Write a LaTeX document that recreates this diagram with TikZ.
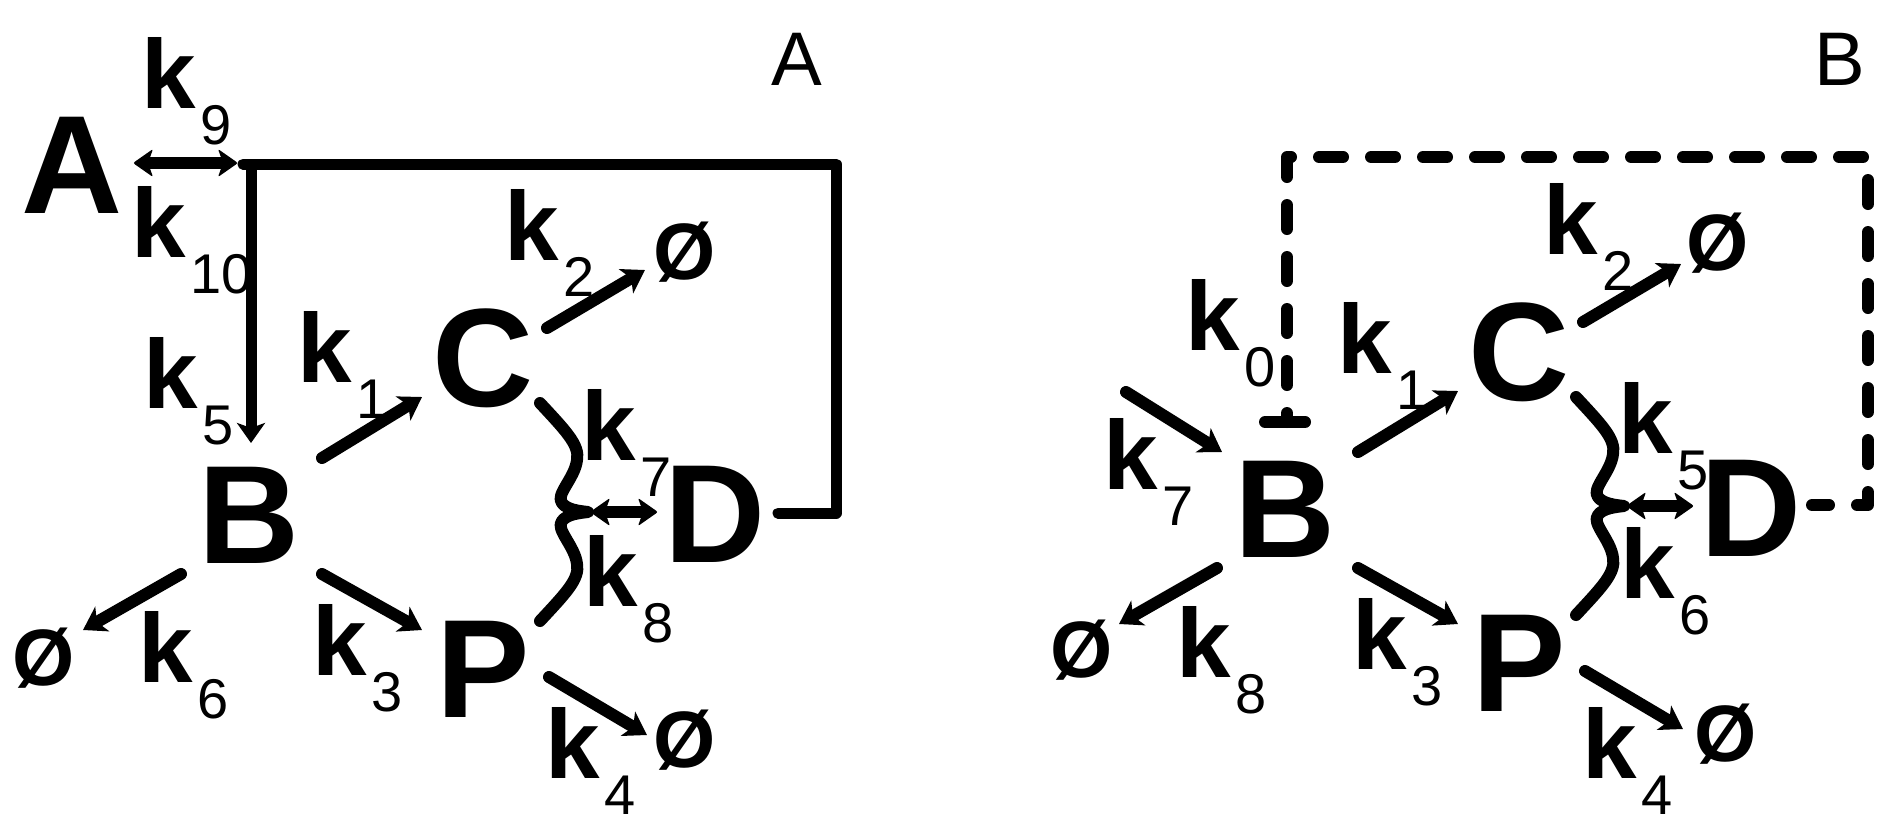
\documentclass[tikz,border=0pt]{standalone}
\usepackage{fontspec}
\setmainfont{Liberation Sans}
\usetikzlibrary{arrows.meta}
\newcommand{\kk}[1]{{\fontsize{98}{98}\selectfont\bfseries k}\kern5pt\raisebox{-36pt}{\fontsize{56}{56}\selectfont #1}}
\tikzset{
  big/.style={font=\fontsize{140}{140}\selectfont\bfseries, inner sep=0pt, anchor=base},
  kl/.style={inner sep=0pt, anchor=base west},
  nul/.style={font=\fontsize{80}{80}\selectfont\bfseries, inner sep=0pt, anchor=base},
  plab/.style={font=\fontsize{76}{76}\selectfont, inner sep=0pt, anchor=base},
  ln/.style={line width=12pt, line cap=round, line join=round},
  arr/.style={ln, -{Stealth[length=22pt,width=28pt,inset=6pt]}},
  varr/.style={line width=11pt, line cap=round, -{Stealth[length=20pt,width=28pt,inset=5pt]}},
  dl/.style={line width=12pt, line cap=round, line join=round, dash pattern=on 24pt off 28pt, dash phase=15pt},
  pics/dbl/.style={code={
    \fill (-#1+14,-6) rectangle (#1-14,6);
    \fill[rounded corners=2pt] (#1,0) -- (#1-20,-14) -- (#1-15,0) -- (#1-20,14) -- cycle;
    \fill[rounded corners=2pt] (-#1,0) -- (-#1+20,-14) -- (-#1+15,0) -- (-#1+20,14) -- cycle;
  }},
  brace/.pic={
    \draw[ln] (-48,-109) .. controls (-23,-82) and (-8,-67) .. (-11,-52)
      .. controls (-13,-34) and (-33,-17) .. (-26,-9)
      .. controls (-21,-2) and (-8,-1) .. (0,0)
      .. controls (-8,1) and (-21,2) .. (-26,9)
      .. controls (-33,17) and (-13,34) .. (-11,52)
      .. controls (-8,67) and (-23,82) .. (-48,109);
  }
}
\begin{document}
\begin{tikzpicture}[x=1pt,y=-1pt]
\useasboundingbox (0,0) rectangle (1894,828);
% ---------------- Panel A ----------------
\node[big] (A) at (72,213) {A};
\node[big] (B1) at (249,563) {B};
\node[big] (C1) at (483,406) {C};
\node[big] (D1) at (715,562) {D};
\node[big] (P1) at (483,717) {P};
\node[nul] (N1a) at (685,279) {Ø};
\node[nul] (N1b) at (44,685) {Ø};
\node[nul] (N1c) at (685,767) {Ø};
\node[plab] (LA) at (797,85) {A};
\node[kl] (k9a) at (141,108) {\kk{9}};
\node[kl] (k10a) at (131,257) {\kk{10}};
\node[kl] (k5a) at (143,408) {\kk{5}};
\node[kl] (k1a) at (297,382) {\kk{1}};
\node[kl] (k2a) at (504,260) {\kk{2}};
\node[kl] (k3a) at (312,675) {\kk{3}};
\node[kl] (k4a) at (545,778) {\kk{4}};
\node[kl] (k6a) at (138,682) {\kk{6}};
\node[kl] (k7a) at (581,460) {\kk{7}};
\node[kl] (k8a) at (583,606) {\kk{8}};
\coordinate (bc1s) at (322,458); \coordinate (bc1e) at (422,397);
\coordinate (cn1s) at (547,328); \coordinate (cn1e) at (645,270);
\coordinate (bn1s) at (181,574); \coordinate (bn1e) at (83,630);
\coordinate (bp1s) at (322,574); \coordinate (bp1e) at (422,630);
\coordinate (pn1s) at (549,677); \coordinate (pn1e) at (647,735);
\draw[arr] (bc1s) -- (bc1e);
\draw[arr] (cn1s) -- (cn1e);
\draw[arr] (bn1s) -- (bn1e);
\draw[arr] (bp1s) -- (bp1e);
\draw[arr] (pn1s) -- (pn1e);
\coordinate (ajm) at (185.5,163);
\pic at (ajm) {dbl=52.5};
\coordinate (J) at (243,164); \coordinate (TR1) at (836,164); \coordinate (D1e) at (778,513);
\draw[ln,line width=11pt] (D1e) -| (TR1) -- (J);
\coordinate (JV) at (251,168); \coordinate (B1t) at (251,443);
\draw[varr] (JV) -- (B1t);
\pic at (588,512) {brace};
\coordinate (dd1m) at (624,512);
\pic at (dd1m) {dbl=34};
% ---------------- Panel B ----------------
\node[big] (B2) at (1285,557) {B};
\node[big] (C2) at (1519,400) {C};
\node[big] (D2) at (1751,556) {D};
\node[big] (P2) at (1519,711) {P};
\node[nul] (N2a) at (1718,270) {Ø};
\node[nul] (N2b) at (1082,677) {Ø};
\node[nul] (N2c) at (1726,761) {Ø};
\node[plab] (LB) at (1840,85) {B};
\node[kl] (k0b) at (1185,350) {\kk{0}};
\node[kl] (k1b) at (1337,373) {\kk{1}};
\node[kl] (k2b) at (1543,254) {\kk{2}};
\node[kl] (k3b) at (1352,669) {\kk{3}};
\node[kl] (k4b) at (1582,778) {\kk{4}};
\node[kl] (k5b) at (1618,453) {\kk{5}};
\node[kl] (k6b) at (1620,598) {\kk{6}};
\node[kl] (k7b) at (1103,489) {\kk{7}};
\node[kl] (k8b) at (1176,677) {\kk{8}};
\coordinate (bc2s) at (1358,452); \coordinate (bc2e) at (1458,391);
\coordinate (cn2s) at (1583,322); \coordinate (cn2e) at (1681,264);
\coordinate (bn2s) at (1217,568); \coordinate (bn2e) at (1119,624);
\coordinate (bp2s) at (1358,568); \coordinate (bp2e) at (1458,624);
\coordinate (pn2s) at (1585,671); \coordinate (pn2e) at (1683,729);
\coordinate (in2s) at (1126,392); \coordinate (in2e) at (1222,452);
\draw[arr] (bc2s) -- (bc2e);
\draw[arr] (cn2s) -- (cn2e);
\draw[arr] (bn2s) -- (bn2e);
\draw[arr] (bp2s) -- (bp2e);
\draw[arr] (pn2s) -- (pn2e);
\draw[arr] (in2s) -- (in2e);
\pic at (1624,506) {brace};
\coordinate (dd2m) at (1660,506);
\pic at (dd2m) {dbl=34};
\coordinate (inh) at (1287,422); \coordinate (TR2) at (1868,157); \coordinate (D2e) at (1812,505);
\draw[dl] (inh) |- (TR2) |- (D2e);
\coordinate (inhL) at (1265,422); \coordinate (inhR) at (1305,422);
\draw[ln] (inhL) -- (inhR);
\end{tikzpicture}
\end{document}
